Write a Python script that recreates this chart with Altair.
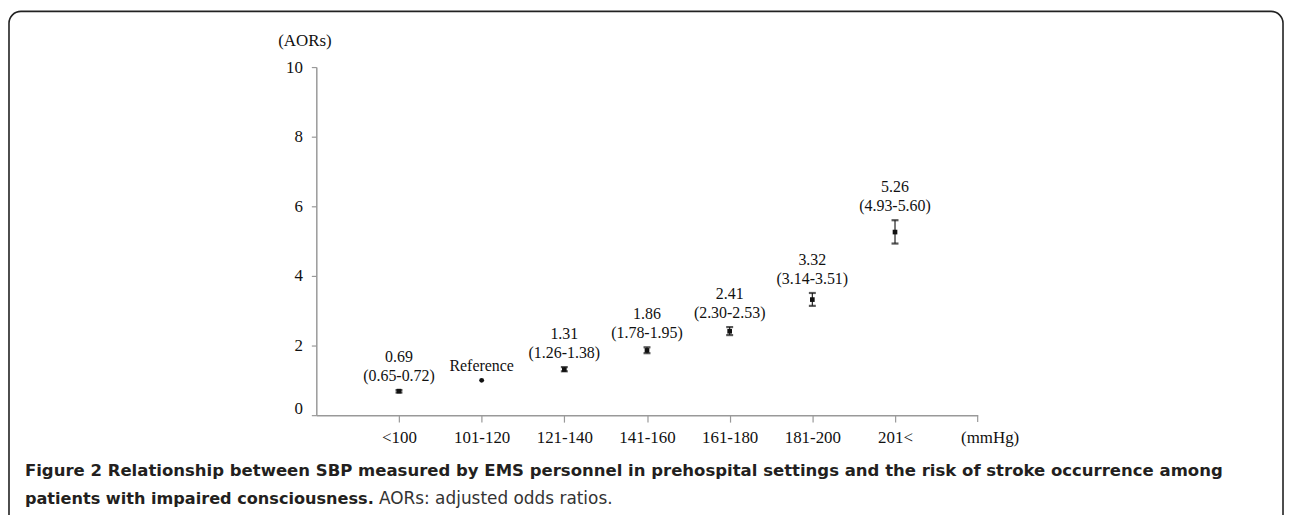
import altair as alt
import pandas as pd

categories = ["<100", "101-120", "121-140", "141-160", "161-180", "181-200", "201<"]
aor = [0.69, 1.00, 1.31, 1.86, 2.41, 3.32, 5.26]
lower = [0.65, 1.00, 1.26, 1.78, 2.30, 3.14, 4.93]
upper = [0.72, 1.00, 1.38, 1.95, 2.53, 3.51, 5.60]
label_top = ["0.69", "", "1.31", "1.86", "2.41", "3.32", "5.26"]
label_bottom = ["(0.65-0.72)", "Reference", "(1.26-1.38)", "(1.78-1.95)", "(2.30-2.53)", "(3.14-3.51)", "(4.93-5.60)"]
is_ref = [False, True, False, False, False, False, False]

caption_bold_1 = "Figure 2 Relationship between SBP measured by EMS personnel in prehospital settings and the risk of stroke occurrence among"
caption_bold_2 = "patients with impaired consciousness."
caption_plain_2 = "AORs: adjusted odds ratios."

df = pd.DataFrame({"cat": categories, "aor": aor, "lower": lower, "upper": upper,
                   "top": label_top, "bottom": label_bottom, "ref": is_ref})
one = pd.DataFrame({"k": [0]})

SERIF = "Liberation Serif"
SANS = "DejaVu Sans"
W, H = 665, 350

xenc = alt.X("cat:N", sort=categories,
             scale=alt.Scale(type="point", padding=1),
             axis=alt.Axis(title="(mmHg)", titleX=677, titleY=22, titleAlign="center",
                           titleBaseline="middle", titleFont=SERIF, titleFontSize=17,
                           titleFontWeight="normal", titleColor="#111",
                           labelAngle=0, labelFont=SERIF, labelFontSize=17, labelColor="#111",
                           labelBaseline="middle", labelPadding=15,
                           tickSize=7, tickColor="#999", domainColor="#999",
                           domainWidth=1.5, tickWidth=1.2, grid=False))

yscale = alt.Scale(domain=[0, 10], nice=False, zero=True)
yaxis = alt.Axis(title="(AORs)", titleAngle=0, titleX=-12, titleY=-27, titleAlign="center",
                 titleBaseline="middle", titleFont=SERIF, titleFontSize=17,
                 titleFontWeight="normal", titleColor="#111",
                 values=[0, 2, 4, 6, 8, 10], labelFont=SERIF, labelFontSize=17,
                 labelColor="#111", labelPadding=9, tickSize=5, tickColor="#999",
                 domainColor="#999", domainWidth=1.5, tickWidth=1.2, grid=False,
                 labelOffset=alt.condition("datum.value == 0", alt.value(-7), alt.value(0)))

base = alt.Chart(df)
deco = alt.Chart(one)

bars = base.transform_filter("!datum.ref").mark_rule(color="#222", strokeWidth=1.2).encode(
    x=xenc, y=alt.Y("lower:Q", scale=yscale, axis=yaxis), y2="upper:Q")
cap_lo = base.transform_filter("!datum.ref").mark_tick(color="#111", thickness=2.2, size=7, orient="horizontal").encode(
    x=alt.X("cat:N", sort=categories), y="lower:Q")
cap_hi = base.transform_filter("!datum.ref").mark_tick(color="#111", thickness=2.2, size=7, orient="horizontal").encode(
    x=alt.X("cat:N", sort=categories), y="upper:Q")
pts = base.transform_filter("!datum.ref").mark_square(color="#111", size=22, opacity=1, filled=True).encode(
    x=alt.X("cat:N", sort=categories), y="aor:Q")
refpt = base.transform_filter("datum.ref").mark_point(shape="circle", color="#111", size=24, opacity=1, filled=True).encode(
    x=alt.X("cat:N", sort=categories), y="aor:Q")

t_bottom = base.mark_text(font=SERIF, fontSize=16, color="#111", baseline="middle", dy=-14).encode(
    x=alt.X("cat:N", sort=categories), y="upper:Q", text="bottom:N")
t_top = base.mark_text(font=SERIF, fontSize=16, color="#111", baseline="middle", dy=-33).encode(
    x=alt.X("cat:N", sort=categories), y="upper:Q", text="top:N")

end_tick = deco.mark_rule(color="#999", strokeWidth=1.2).encode(
    x=alt.value(W), y=alt.value(H), y2=alt.value(H + 7))

border = deco.mark_rect(filled=False, stroke="#222", strokeWidth=1.6, cornerRadius=12).encode(
    x=alt.value(-309), x2=alt.value(972), y=alt.value(-56), y2=alt.value(520))

cap1 = deco.mark_text(font=SANS, fontSize=16.6, fontWeight="bold", color="#231f20", align="left",
                      baseline="middle", text=caption_bold_1).encode(
    x=alt.value(-293), y=alt.value(406))
cap2 = deco.mark_text(font=SANS, fontSize=16.2, fontWeight="bold", color="#231f20", align="left",
                      baseline="middle", text=caption_bold_2).encode(
    x=alt.value(-293), y=alt.value(434))
cap3 = deco.mark_text(font=SANS, fontSize=17, fontWeight="normal", color="#333", align="left",
                      baseline="middle", text=caption_plain_2).encode(
    x=alt.value(63), y=alt.value(434))

chart = alt.layer(bars, cap_lo, cap_hi, pts, refpt, t_bottom, t_top, end_tick,
                  border, cap1, cap2, cap3).properties(
    width=W, height=H,
    background="white",
    autosize=alt.AutoSizeParams(type="none"),
    padding={"left": 310, "top": 58, "right": 308, "bottom": 99},
).configure_view(stroke="#ffffff", strokeOpacity=0, strokeWidth=0).configure_axis(grid=False)

chart.save("out.html", embed_options={"renderer": "svg", "actions": False})
